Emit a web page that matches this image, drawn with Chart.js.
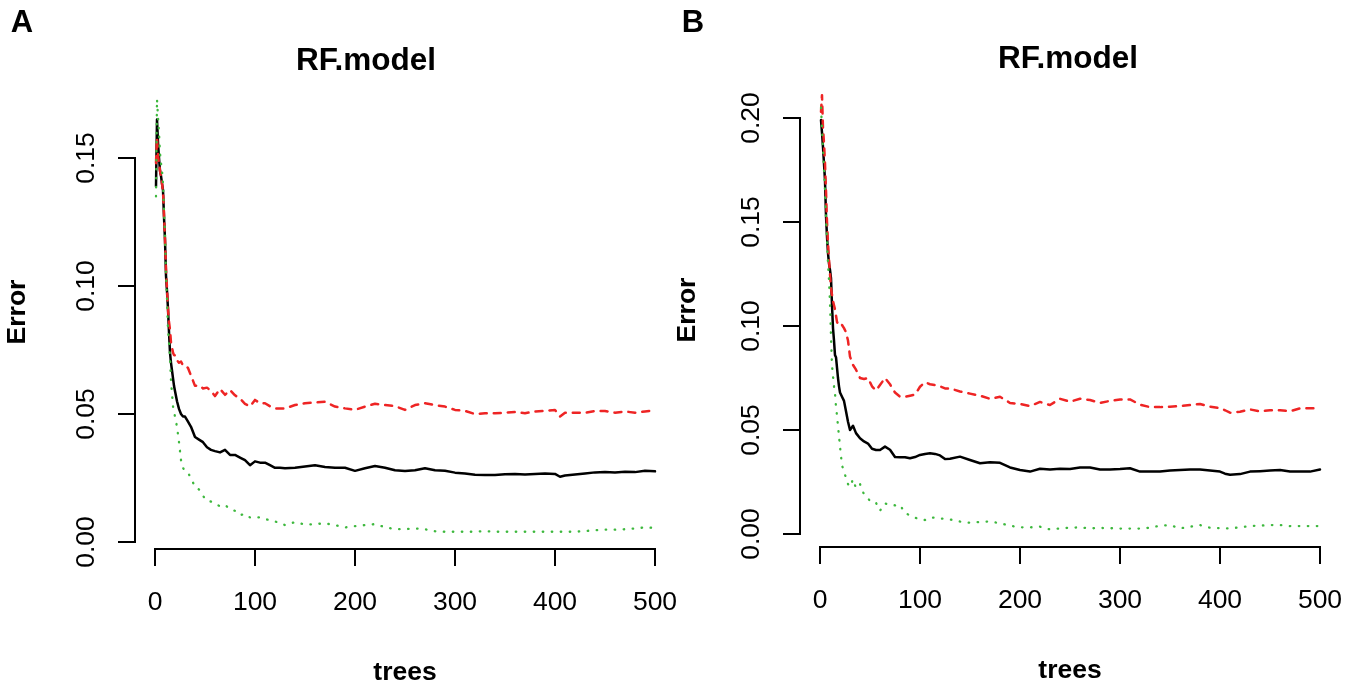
<!DOCTYPE html>
<html>
<head>
<meta charset="utf-8">
<script src="https://cdn.jsdelivr.net/npm/chart.js@4.4.1/dist/chart.umd.min.js"></script>
<style>
  html, body { margin: 0; padding: 0; background: #ffffff; }
  #wrap { position: relative; width: 1361px; height: 694px; overflow: hidden; }
  canvas { position: absolute; top: 0; }
</style>
</head>
<body>
<div id="wrap">
  <canvas id="chartA" width="680" height="694" style="left:0px"></canvas>
  <canvas id="chartB" width="711" height="694" style="left:650px"></canvas>
</div>
<script>
// ---------- DATA ----------
const trees = [1,2,3,4,5,6,7,8,9,10, 11,12,13,14,15,16,17,18,19,20,
  22,24,26,28,30,33,36,40,44,48, 52,56,60,65,70,75,80,85,90,95,
  100,105,110,115,120,125,130,140,150,160, 170,180,190,200,210,220,230,240,250,260,
  270,280,290,300,310,320,330,340,350,360, 370,380,390,400,405,410,420,430,440,450,
  460,470,480,490,500];

const xTickValues = [0, 100, 200, 300, 400, 500];
const xTickLabels = ["0", "100", "200", "300", "400", "500"];
const yTickValuesA = [0, 0.05, 0.10, 0.15];
const yTickLabelsA = ["0.00", "0.05", "0.10", "0.15"];
const yTickValuesB = [0, 0.05, 0.10, 0.15, 0.20];
const yTickLabelsB = ["0.00", "0.05", "0.10", "0.15", "0.20"];

// Panel A
const oobA = [0.139,0.165,0.156,0.150,0.145,0.143,0.140,0.1375,0.127,0.118,
  0.104,0.098,0.091,0.082,0.074,0.070,0.067,0.064,0.061,0.059,
  0.055,0.052,0.050,0.049,0.049,0.047,0.045,0.041,0.040,0.039,
  0.037,0.036,0.0355,0.035,0.036,0.034,0.034,0.033,0.032,0.030,
  0.0315,0.031,0.031,0.030,0.029,0.029,0.0288,0.029,0.0295,0.030,
  0.0293,0.029,0.029,0.0278,0.0288,0.0297,0.029,0.028,0.0277,0.028,
  0.0288,0.028,0.0278,0.0271,0.0268,0.0263,0.0262,0.0262,0.0265,0.0266,
  0.0264,0.0266,0.0268,0.0266,0.0255,0.026,0.0264,0.0268,0.0272,0.0273,
  0.0272,0.0274,0.0273,0.0278,0.0276];
const class1A = [0.148,0.158,0.151,0.148,0.145,0.143,0.140,0.137,0.128,0.118,
  0.107,0.099,0.091,0.086,0.083,0.078,0.076,0.074,0.073,0.073,
  0.071,0.070,0.0705,0.069,0.069,0.068,0.065,0.061,0.0612,0.060,
  0.0603,0.059,0.057,0.0598,0.0575,0.0594,0.0573,0.056,0.054,0.053,
  0.0555,0.0542,0.0542,0.053,0.0522,0.0522,0.0522,0.0535,0.0542,0.0545,
  0.0548,0.0529,0.0522,0.0516,0.0529,0.054,0.0535,0.0531,0.0516,0.0535,
  0.0542,0.0535,0.0529,0.0516,0.0512,0.050,0.0503,0.0503,0.0505,0.0508,
  0.0503,0.051,0.0512,0.0516,0.049,0.0505,0.0505,0.0505,0.0512,0.0512,
  0.0505,0.051,0.0505,0.051,0.0515];
const class2A = [0.135,0.173,0.166,0.160,0.152,0.148,0.145,0.140,0.130,0.120,
  0.105,0.095,0.083,0.078,0.072,0.063,0.058,0.053,0.051,0.049,
  0.045,0.039,0.032,0.029,0.0275,0.027,0.025,0.0215,0.0205,0.018,
  0.016,0.0158,0.0148,0.014,0.0145,0.0128,0.0122,0.0105,0.011,0.0096,
  0.0096,0.0096,0.009,0.0085,0.008,0.0075,0.0066,0.0078,0.0068,0.007,
  0.0073,0.0066,0.0057,0.0062,0.0066,0.007,0.0058,0.005,0.005,0.0053,
  0.005,0.0042,0.004,0.004,0.004,0.004,0.0043,0.004,0.004,0.004,
  0.004,0.004,0.004,0.004,0.004,0.004,0.004,0.0043,0.0046,0.0048,
  0.0048,0.005,0.0053,0.0057,0.0055];

// Panel B
const oobB = [0.199,0.193,0.186,0.178,0.170,0.153,0.143,0.135,0.130,0.127,
  0.123,0.110,0.099,0.093,0.086,0.085,0.080,0.075,0.071,0.068,
  0.066,0.064,0.059,0.054,0.050,0.052,0.0485,0.046,0.0445,0.0435,
  0.041,0.0404,0.0404,0.042,0.0405,0.037,0.0369,0.0369,0.0364,0.037,
  0.038,0.0385,0.0388,0.0385,0.0378,0.036,0.0362,0.0372,0.0356,0.034,
  0.0345,0.0342,0.032,0.0308,0.030,0.0314,0.031,0.0314,0.0312,0.032,
  0.032,0.031,0.031,0.0312,0.0316,0.030,0.030,0.030,0.0305,0.0308,
  0.031,0.031,0.0305,0.030,0.029,0.0285,0.0288,0.030,0.0302,0.0305,
  0.0308,0.030,0.030,0.030,0.031];
const class1B = [0.203,0.211,0.195,0.188,0.178,0.165,0.150,0.140,0.132,0.125,
  0.118,0.115,0.112,0.110,0.108,0.105,0.102,0.101,0.101,0.100,
  0.1005,0.099,0.097,0.093,0.0853,0.0813,0.079,0.075,0.0745,0.075,
  0.071,0.069,0.0716,0.075,0.072,0.068,0.066,0.066,0.0665,0.067,
  0.0708,0.073,0.072,0.0716,0.071,0.070,0.070,0.0685,0.0675,0.0665,
  0.065,0.066,0.063,0.0625,0.0615,0.0635,0.062,0.065,0.0636,0.065,
  0.0644,0.063,0.064,0.0647,0.0647,0.0622,0.061,0.061,0.0612,0.0615,
  0.062,0.0625,0.0612,0.0605,0.0595,0.0583,0.0588,0.0599,0.059,0.0595,
  0.0595,0.059,0.0604,0.0604,0.0604];
const class2B = [0.205,0.195,0.185,0.175,0.165,0.152,0.142,0.130,0.122,0.111,
  0.095,0.081,0.076,0.071,0.0677,0.0612,0.057,0.052,0.047,0.042,
  0.033,0.030,0.027,0.024,0.0227,0.0263,0.022,0.024,0.019,0.017,
  0.015,0.015,0.0112,0.0147,0.014,0.0138,0.014,0.010,0.009,0.0078,
  0.0072,0.0067,0.0079,0.0078,0.0075,0.0072,0.007,0.006,0.0054,0.0058,
  0.006,0.0052,0.004,0.0032,0.0032,0.0035,0.0022,0.0027,0.003,0.0032,
  0.0027,0.0029,0.0028,0.0026,0.0026,0.0026,0.003,0.004,0.0043,0.0027,
  0.0035,0.0043,0.003,0.0028,0.0027,0.0027,0.0032,0.0038,0.004,0.0043,
  0.0043,0.0038,0.0038,0.0038,0.0038];

// ---------- RENDERING ----------
const FONT = '"Liberation Sans", Arial, Helvetica, sans-serif';
const pts = (xs, ys) => xs.map((x, i) => ({ x: x, y: ys[i] }));

const rAxes = {
  id: 'rAxes',
  afterDraw(chart, args, o) {
    const ctx = chart.ctx, xs = chart.scales.x, ys = chart.scales.y, ca = chart.chartArea;
    ctx.save();
    ctx.strokeStyle = '#000'; ctx.fillStyle = '#000';
    ctx.lineWidth = 2; ctx.lineCap = 'square';
    // x axis
    const xb = ca.bottom;
    const xa = xs.getPixelForValue(o.xTicks[0]);
    const xz = xs.getPixelForValue(o.xTicks[o.xTicks.length - 1]);
    ctx.beginPath(); ctx.moveTo(xa, xb); ctx.lineTo(xz, xb);
    o.xTicks.forEach(v => { const p = xs.getPixelForValue(v); ctx.moveTo(p, xb); ctx.lineTo(p, xb + 16); });
    ctx.stroke();
    // y axis
    const yl = ca.left;
    const ya = ys.getPixelForValue(o.yTicks[0]);
    const yz = ys.getPixelForValue(o.yTicks[o.yTicks.length - 1]);
    ctx.beginPath(); ctx.moveTo(yl, ya); ctx.lineTo(yl, yz);
    o.yTicks.forEach(v => { const p = ys.getPixelForValue(v); ctx.moveTo(yl, p); ctx.lineTo(yl - 16, p); });
    ctx.stroke();
    // tick labels
    ctx.font = '26.5px ' + FONT;
    ctx.textAlign = 'center'; ctx.textBaseline = 'middle';
    o.xTicks.forEach((v, i) => ctx.fillText(o.xLabels[i], xs.getPixelForValue(v), o.xLabelY));
    o.yTicks.forEach((v, i) => {
      ctx.save(); ctx.translate(o.yLabelX, ys.getPixelForValue(v)); ctx.rotate(-Math.PI / 2);
      ctx.fillText(o.yLabels[i], 0, 0); ctx.restore();
    });
    // axis titles
    ctx.font = 'bold 26.5px ' + FONT;
    ctx.fillText(o.xTitle, (xa + xz) / 2, o.xTitleY);
    ctx.save(); ctx.translate(o.yTitleX, o.yTitleY); ctx.rotate(-Math.PI / 2);
    ctx.fillText(o.yTitle, 0, 0); ctx.restore();
    // main title
    ctx.font = 'bold 31.5px ' + FONT;
    ctx.fillText(o.title, o.titleX, o.titleY);
    // panel letter
    ctx.font = 'bold 31px ' + FONT;
    ctx.fillText(o.letter, o.letterX, o.letterY);
    ctx.restore();
  }
};

function makeChart(id, pad, yMin, yMax, oob, c1, c2, axisOpts) {
  return new Chart(document.getElementById(id), {
    type: 'line',
    data: {
      datasets: [
        { label: 'OOB', data: pts(trees, oob), borderColor: '#000000', borderWidth: 2.5,
          pointRadius: 0, tension: 0, order: 2, borderCapStyle: 'round', borderJoinStyle: 'round' },
        { label: '1', data: pts(trees, c1), borderColor: '#EE2424', borderWidth: 2.5,
          borderDash: [7, 7], borderCapStyle: 'round', borderJoinStyle: 'round',
          pointRadius: 0, tension: 0, order: 1 },
        { label: '2', data: pts(trees, c2), borderColor: '#3DB83D', borderWidth: 2.3,
          borderDash: [0.5, 8.5], borderCapStyle: 'round', borderJoinStyle: 'round',
          pointRadius: 0, tension: 0, order: 0 }
      ]
    },
    options: {
      responsive: false, animation: false, devicePixelRatio: 1,
      layout: { padding: pad },
      plugins: { legend: { display: false }, tooltip: { enabled: false }, title: { display: false },
        rAxes: axisOpts },
      scales: {
        x: { type: 'linear', min: -20, max: 520, display: false },
        y: { type: 'linear', min: yMin, max: yMax, display: false }
      }
    },
    plugins: [rAxes]
  });
}

makeChart('chartA', { left: 135, right: 5, top: 81, bottom: 145 }, -0.00273, 0.18008,
  oobA, class1A, class2A, {
    xTicks: xTickValues, xLabels: xTickLabels, yTicks: yTickValuesA, yLabels: yTickLabelsA,
    xLabelY: 603, yLabelX: 87, xTitle: 'trees', xTitleY: 673, yTitle: 'Error', yTitleX: 18, yTitleY: 312,
    title: 'RF.model', titleX: 366, titleY: 61, letter: 'A', letterX: 22, letterY: 23
  });

makeChart('chartB', { left: 150, right: 21, top: 76, bottom: 147 }, -0.00625, 0.2202,
  oobB, class1B, class2B, {
    xTicks: xTickValues, xLabels: xTickLabels, yTicks: yTickValuesB, yLabels: yTickLabelsB,
    xLabelY: 601, yLabelX: 102, xTitle: 'trees', xTitleY: 671, yTitle: 'Error', yTitleX: 38, yTitleY: 310,
    title: 'RF.model', titleX: 418, titleY: 59, letter: 'B', letterX: 43, letterY: 23
  });
</script>
</body>
</html>
